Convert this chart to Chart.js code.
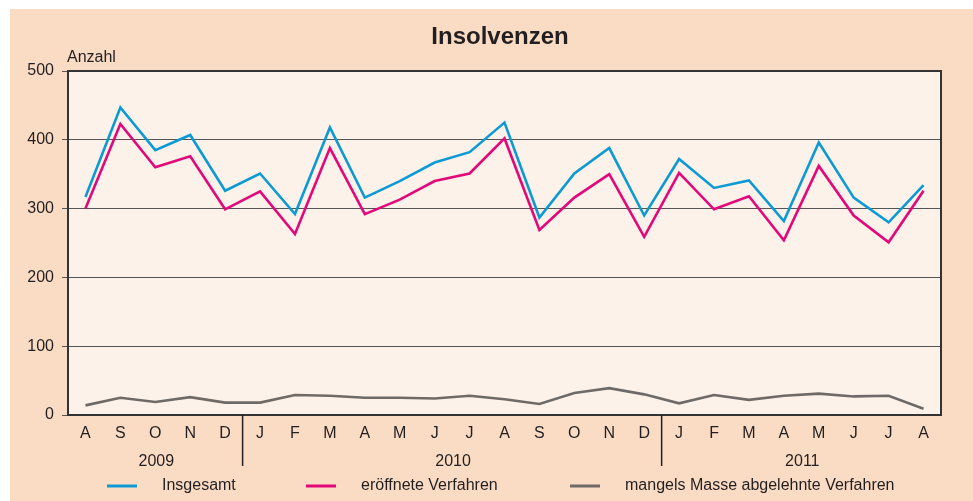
<!DOCTYPE html>
<html>
<head>
<meta charset="utf-8">
<script src="https://cdn.jsdelivr.net/npm/chart.js@4/dist/chart.umd.min.js"></script>
<style>
  html, body { margin: 0; padding: 0; background: #fff; }
  #wrap { width: 973px; height: 501px; }
</style>
</head>
<body>
<div id="wrap"><canvas id="insolv" width="973" height="501"></canvas></div>
<script>
const months = ['A','S','O','N','D','J','F','M','A','M','J','J','A','S','O','N','D','J','F','M','A','M','J','J','A'];
const years = ['2009', '2010', '2011'];
const yearFirst = [0, 5, 17];
const yearLast = [4, 16, 24];

const insgesamt = [317, 447, 385, 407, 326, 351, 292, 418, 316, 340, 367, 382, 425, 287, 351, 388, 290, 372, 330, 341, 282, 396, 316, 280, 334];
const eroeffnet = [300, 423, 360, 376, 299, 325, 263, 388, 292, 313, 340, 351, 402, 269, 316, 350, 259, 352, 299, 318, 254, 362, 290, 251, 326];
const mangels   = [14, 25, 19, 26, 18, 18, 29, 28, 25, 25, 24, 28, 23, 16, 32, 39, 30, 17, 29, 22, 28, 31, 27, 28, 9];

const yTicks = [0, 100, 200, 300, 400, 500];

const FONT = '"Liberation Sans", Arial, sans-serif';
const outerBg = '#fadbc4';
const plotBg = '#fdf2ea';
const frame = '#333';
const txt = '#231f20';

// background, frame, title, years, legend
const deco = {
    id: 'deco',
    beforeDraw(chart) {
        const c = chart.ctx, a = chart.chartArea;
        c.save();
        c.fillStyle = '#fff';
        c.fillRect(0, 0, chart.width, chart.height);
        c.fillStyle = outerBg;
        c.fillRect(10, 9, chart.width - 10, chart.height - 9);
        c.fillStyle = plotBg;
        c.fillRect(a.left, a.top, a.right - a.left, a.bottom - a.top);
        c.restore();
    },
    afterDraw(chart) {
        const c = chart.ctx, a = chart.chartArea;
        const xs = chart.scales.x;
        c.save();
        // top and right frame
        c.strokeStyle = frame;
        c.lineWidth = 2;
        c.beginPath();
        c.moveTo(a.left, a.top);
        c.lineTo(a.right, a.top);
        c.lineTo(a.right, a.bottom);
        c.stroke();

        // title
        c.fillStyle = txt;
        c.font = 'bold 24px ' + FONT;
        c.textAlign = 'center';
        c.textBaseline = 'middle';
        c.fillText('Insolvenzen', 500, 37);

        // axis name
        c.font = '16px ' + FONT;
        c.textAlign = 'left';
        c.fillText('Anzahl', a.left - 1, 58);

        // years + separators
        c.lineWidth = 1.5;
        c.strokeStyle = '#222';
        years.forEach((y, i) => {
            const x0 = xs.getPixelForValue(yearFirst[i]);
            const x1 = xs.getPixelForValue(yearLast[i]);
            c.textAlign = 'center';
            c.fillText(y, (x0 + x1) / 2 + 1, 462);
            if (i > 0) {
                const sx = (xs.getPixelForValue(yearFirst[i] - 1) + x0) / 2;
                c.beginPath();
                c.moveTo(sx, a.bottom);
                c.lineTo(sx, 466);
                c.stroke();
            }
        });

        // legend
        const legX = [107, 306, 570];
        c.font = '16px ' + FONT;
        chart.data.datasets.forEach((ds, i) => {
            c.strokeStyle = ds.borderColor;
            c.lineWidth = 3;
            c.beginPath();
            c.moveTo(legX[i], 486);
            c.lineTo(legX[i] + 30, 486);
            c.stroke();
            c.fillStyle = txt;
            c.textAlign = 'left';
            c.fillText(ds.label, legX[i] + 55, 486);
        });
        c.restore();
    }
};

new Chart(document.getElementById('insolv').getContext('2d'), {
    type: 'line',
    data: {
        labels: months,
        datasets: [
            { label: 'Insgesamt', data: insgesamt, borderColor: '#0c9ad4' },
            { label: 'eröffnete Verfahren', data: eroeffnet, borderColor: '#e3087a' },
            { label: 'mangels Masse abgelehnte Verfahren', data: mangels, borderColor: '#6e6a68' }
        ]
    },
    options: {
        responsive: false,
        animation: false,
        layout: { padding: { top: 71, right: 32, bottom: 0, left: 0 } },
        elements: {
            line: { borderWidth: 2.6, tension: 0 },
            point: { radius: 0 }
        },
        plugins: {
            legend: { display: false },
            title: { display: false },
            tooltip: { enabled: false }
        },
        scales: {
            x: {
                offset: true,
                grid: { display: false, drawTicks: false },
                border: { display: true, color: frame, width: 2 },
                ticks: { color: txt, font: { family: FONT, size: 16 }, padding: 9, maxRotation: 0, autoSkip: false },
                afterFit(s) { s.height = 86; }
            },
            y: {
                min: 0,
                max: 500,
                afterBuildTicks(s) { s.ticks = yTicks.map(v => ({ value: v })); },
                grid: { color: '#555', lineWidth: 1, tickLength: 6, drawTicks: true },
                border: { display: true, color: frame, width: 2 },
                ticks: { color: txt, font: { family: FONT, size: 16 }, padding: 8 },
                afterFit(s) { s.width = 68; }
            }
        }
    },
    plugins: [deco]
});
</script>
</body>
</html>
